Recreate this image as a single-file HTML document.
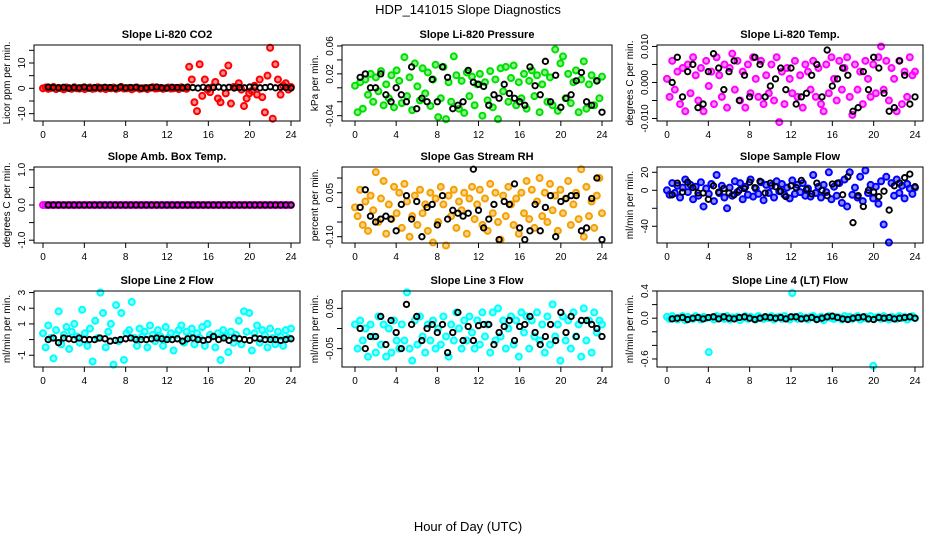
<!DOCTYPE html>
<html><head><meta charset="utf-8"><title>HDP_141015 Slope Diagnostics</title>
<style>
html,body{margin:0;padding:0;background:#fff;}
svg{display:block;font-family:"Liberation Sans",Arial,sans-serif;}
</style></head>
<body>
<svg id="chart" width="936" height="540" viewBox="0 0 936 540">
<text x="468" y="14" text-anchor="middle" font-size="13">HDP_141015  Slope Diagnostics</text>
<text x="468" y="531" text-anchor="middle" font-size="13">Hour of Day (UTC)</text>
</svg>
<script>
const xTicks = [0,4,8,12,16,20,24];

const co2Slope = [0,0.3,-0.2,0.1,0.5,-0.3,0.2,0,-0.4,0.3,0.1,-0.2,0.4,0,-0.1,0.2,-0.3,0.1,0.3,-0.2,0,0.4,-0.1,0.2,-0.3,0.1,0,0.3,-0.2,0.1,0.5,-0.1,0,0.2,-0.4,0.1,0.3,-0.2,0,0.1,-0.3,0.2,0.4,-0.1,0,0.2,-0.2,0.1,0.3,-0.1,0,0.2,-0.3,0.4,0.1,-0.2,8.5,3.5,-5.5,-9,9.5,-3,3.5,-0.5,-1.5,0.5,2.5,-4,-5.5,6,-2,9,-6,0.5,0.5,2,-0.5,-7,-4,-2,-1,1,-2.5,3.5,-3.5,-9.5,5,16,-12,9.5,3.5,-2.5,1,2,-0.5,0.5];
const co2Mean = [0.5,0.3,0.2,0.4,0.1,0.3,0.2,0.5,0.1,0.3,0.2,0.4,0.3,0.1,0.5,0.2,0.3,0.4,0.1,0.2,0.3,0.5,0.2,0.1,0.4,0.3,0.2,0.5,0.3,0.1,0.4,0.2,0.3,0.5,0.2,0.4,0.1,0.3,0.2,0.5,0.4,0.2,0.3,0.6,0.2,0.4,0.3,0.1];

const presSlope = [0.003,-0.035,0.008,-0.03,0.012,-0.01,0.02,-0.02,0.015,-0.005,0.024,-0.025,0.005,-0.015,0.018,-0.028,0.025,0.01,-0.022,0.044,-0.012,0.015,-0.032,0.035,0.002,-0.018,0.028,-0.008,0.022,-0.026,0.012,0.033,-0.042,-0.015,0.03,-0.045,0.008,-0.02,0.045,0.018,-0.03,0.01,-0.036,0.022,-0.012,0.016,-0.025,0.005,0.02,-0.04,0.008,-0.018,0.024,-0.028,0.012,-0.045,0.028,-0.005,0.03,-0.02,0.014,0.032,-0.025,0.008,-0.015,0.02,-0.03,0.01,0.025,-0.012,0.018,-0.035,0.005,0.022,-0.02,0.015,-0.025,0.055,-0.033,0.035,0.045,-0.015,0.02,-0.022,0.008,0.025,-0.035,0.012,0.038,-0.03,0.005,0.018,-0.025,0.01,-0.015,0.016];
const presMean = [0.015,0.02,0,0,0.02,-0.01,-0.02,0,-0.01,-0.02,0.03,-0.03,-0.015,-0.02,0.012,-0.02,0.03,0.015,-0.03,-0.025,-0.02,0.025,0.008,0.005,0.002,-0.025,-0.01,-0.015,0.005,-0.008,-0.015,-0.02,-0.025,0.03,0.003,-0.01,0.038,-0.02,0.018,-0.028,-0.015,-0.01,0.01,0.022,-0.02,-0.025,0.01,-0.035];

const tempSlope = [0.001,-0.004,0.006,-0.002,0.003,-0.006,0.004,-0.008,0.005,-0.003,0.007,0.002,-0.005,0.004,-0.008,0.006,-0.001,0.003,-0.006,0.007,0.002,-0.004,0.005,-0.007,0.004,0.008,-0.002,0.006,-0.005,0.003,-0.007,0.005,-0.003,0.007,0.001,-0.004,0.006,-0.006,0.002,-0.003,0.005,-0.005,0.007,-0.011,0.003,-0.006,0.004,0.001,-0.003,0.006,-0.004,0.002,-0.007,0.005,0.003,-0.002,0.006,-0.004,0.004,-0.006,-0.008,0.005,-0.003,0.007,0.001,-0.005,0.006,-0.002,0.004,0.007,-0.004,-0.009,0.005,-0.002,0.003,-0.006,0.006,0.001,-0.004,0.005,-0.003,0.007,0.01,-0.002,0.006,-0.005,0.004,0.001,-0.008,0.006,-0.006,0.003,-0.004,0.007,0.002,0.003];
const tempMean = [0,0.007,-0.004,0.003,0.005,-0.007,-0.006,0.003,0.008,0.004,-0.002,0.003,0.006,-0.005,0.002,-0.004,0.007,0.005,-0.004,-0.001,0.001,0.004,-0.002,0.004,-0.006,-0.004,-0.003,0.002,0.005,-0.004,0.009,-0.001,0.001,0.004,0.002,-0.008,-0.007,0.003,-0.002,0.007,0.004,-0.003,-0.008,-0.007,0.006,0.002,-0.006,-0.004];

const boxSlope = [0,0,0,0,0,0,0,0,0,0,0,0,0,0,0,0,0,0,0,0,0,0,0,0,0,0,0,0,0,0,0,0,0,0,0,0,0,0,0,0,0,0,0,0,0,0,0,0,0,0,0,0,0,0,0,0,0,0,0,0,0,0,0,0,0,0,0,0,0,0,0,0,0,0,0,0,0,0,0,0,0,0,0,0,0,0,0,0,0,0,0,0,0,0,0,0];
const boxMean = [0,0,0,0,0,0,0,0,0,0,0,0,0,0,0,0,0,0,0,0,0,0,0,0,0,0,0,0,0,0,0,0,0,0,0,0,0,0,0,0,0,0,0,0,0,0,0,0];

const rhSlope = [0,-0.03,0.06,-0.06,0.02,-0.08,0.04,-0.01,0.12,-0.05,0.03,0.09,-0.09,0.01,-0.04,0.07,-0.02,0.05,-0.07,0.08,0.02,-0.1,-0.03,0.04,-0.06,0.06,-0.02,0.01,-0.08,0.05,-0.12,0.03,-0.05,0.07,0.01,-0.13,0.04,-0.03,0.06,-0.07,0.02,-0.01,0.05,-0.09,0.03,0.07,-0.04,0.01,0.06,-0.06,0.03,-0.08,0.08,-0.02,0.05,-0.05,-0.11,0.04,-0.03,0.07,0.01,-0.06,0.03,-0.09,0.05,-0.02,0.09,-0.04,0.06,-0.07,0.02,0.1,-0.03,0.05,-0.05,0.08,-0.01,0.04,-0.08,0.06,-0.02,0.03,0.09,-0.06,0.01,0.05,-0.04,0.13,-0.1,0.07,-0.03,0.02,-0.07,0.04,0.1,-0.02];
const rhMean = [0,0.06,-0.03,-0.05,-0.04,-0.03,-0.04,-0.08,0.01,0.04,-0.04,0.02,-0.1,0,0.01,-0.06,0.04,-0.04,-0.01,-0.02,-0.03,-0.02,0.13,-0.01,-0.07,-0.04,0.01,-0.11,0.02,0.01,0.08,-0.07,-0.11,-0.08,0.01,-0.08,0,0.04,-0.1,0.02,0.03,0.04,0.04,-0.08,-0.07,0.03,0.1,-0.11];

const flowSlope = [0,-5,8,-3,5,-8,3,12,-2,6,-10,4,-6,9,-18,2,-4,7,-12,17,-3,5,-8,-20,3,-6,10,-2,8,-10,4,-5,12,-7,2,-4,9,-11,6,-3,5,-8,10,-1,7,-5,3,-9,11,-4,6,-2,8,-6,2,-7,17,-3,4,-8,6,-2,20,-10,4,-6,8,-14,12,-18,20,-5,3,-8,15,-12,22,-3,6,-9,4,-15,10,-38,15,-58,8,-6,12,-3,5,-9,7,2,-4,3];
const flowMean = [-5,8,-2,9,3,-3,-3,-10,5,-2,2,-3,-5,0,2,9,3,10,-3,8,4,-1,-7,5,3,11,1,-4,8,0,-6,7,8,-5,15,-36,-6,-18,0,-2,-7,-1,-22,5,8,14,18,4];

const line2Slope = [0.4,-0.5,0.9,0.1,-1.2,0.6,1.8,-0.3,0.3,0.8,-0.6,0.5,1,0.2,-0.2,1.9,0.4,-0.4,0.7,-1.4,1.2,0.1,3,1.7,-0.5,0.5,1,-1.6,2.2,-0.1,1.7,-1.3,0.4,0.6,2.4,0.1,-0.4,0.7,0.2,0.5,-0.5,0.9,0.3,-0.1,0.6,0.2,-0.4,0.8,0.1,0.4,-0.7,0.3,0.6,0.9,-0.2,0.5,0.2,0.7,-0.3,0.4,0.1,0.8,-0.4,1,0.3,0.2,-0.5,0.4,-1.3,0.6,0.2,-0.8,0.5,-0.2,0.3,1.2,-0.3,1.8,0.5,1.7,-0.7,0.4,0.9,-0.2,0.6,0.3,-0.5,0.7,0.1,-0.3,0.5,0.2,-0.4,0.6,0.1,0.7];
const line2Mean = [0,0.1,-0.2,0.1,0.05,0,0.1,0,0,0,0.1,0.05,-0.1,-0.05,0,0.05,0.1,0,0,0,0.05,0.1,0.05,0,0,0.05,-0.1,0.05,0.1,0,-0.05,0,0.2,0,0.1,-0.05,0.1,0.05,0,-0.05,0.1,0.05,0,0,0,-0.05,0,0.05];

const line3Slope = [0.01,-0.05,0.02,-0.03,0,-0.07,0.01,-0.02,-0.06,0.03,-0.04,0.01,-0.07,0,-0.06,0.02,-0.03,-0.05,0.01,-0.03,0.09,-0.05,-0.08,0.02,-0.04,0.03,-0.02,-0.06,0.01,-0.03,0.02,-0.05,0,-0.04,0.03,-0.02,-0.07,0.01,-0.03,0.04,0,-0.05,0.02,-0.03,0.03,-0.01,-0.05,0.02,-0.04,0.04,-0.02,0.01,-0.06,0.04,-0.03,0.05,-0.02,0.02,-0.05,0,0.03,-0.04,0.02,-0.07,0.04,-0.01,0.03,-0.05,0.02,-0.02,0.04,-0.03,0.01,-0.06,0.03,-0.04,0.06,-0.02,0.01,-0.08,0.03,-0.03,0.02,-0.05,0.04,-0.02,0.01,-0.07,0.05,-0.03,0.02,-0.06,0.04,-0.01,0.02,0.01];
const line3Mean = [0,-0.05,-0.02,-0.02,0.03,-0.04,0.02,-0.01,-0.05,0.06,0.01,0.03,-0.03,0,0.01,-0.01,0.01,-0.06,-0.01,0.04,-0.03,0.005,-0.03,0.007,0.01,0.01,-0.04,-0.01,0.005,0.02,-0.03,0.005,0.01,0.03,-0.01,-0.04,-0.02,0.01,-0.03,0.04,-0.01,0.03,-0.02,0.02,0.02,0.01,0,-0.02];

const line4Slope = [0.02,-0.01,0.03,0,-0.02,0.01,0.03,-0.03,0.02,0,-0.01,0.03,0.01,-0.02,0.02,0,-0.5,0.01,-0.02,0.03,0,0.02,-0.01,0.03,-0.02,0.01,0,0.02,-0.03,0.01,0.03,-0.01,0.02,0,-0.02,0.03,0.01,-0.01,0.02,0,0.03,-0.02,0.01,0.02,-0.01,0.03,0,-0.02,0.37,0.02,-0.01,0.03,0,0.01,-0.02,0.02,0.03,-0.01,0,0.02,-0.03,0.01,0.03,0,-0.01,0.02,0.01,-0.02,0.03,0,0.02,-0.01,0.01,0.03,-0.02,0,0.02,-0.01,0.03,-0.7,0.01,0.02,-0.01,0.03,0,-0.02,0.02,0.01,-0.01,0.03,0,0.02,-0.02,0.01,0.03,0];
const line4Mean = [-0.01,0,0.01,-0.02,0,0.01,-0.01,0.01,0.02,-0.01,0.02,0,-0.01,0.01,0.02,0,-0.02,0,0.02,0.01,0,0.01,-0.01,0.02,0.02,-0.01,0,0.01,-0.02,0,0.02,0.03,0.01,-0.01,-0.02,0,0.01,0.02,-0.01,-0.02,0.01,0,0.01,-0.01,0,0.01,0.02,0];

const co2YTicks = [-10,-5,0,5,10,15];
const co2YLabels = ["-10","","0","","10",""];
const presYTicks = [-0.04,-0.02,0,0.02,0.04,0.06];
const presYLabels = ["-0.04","","","0.02","","0.06"];
const tempYTicks = [-0.01,-0.005,0,0.005,0.01];
const tempYLabels = ["-0.010","","0.000","","0.010"];
const boxYTicks = [-1,-0.5,0,0.5,1];
const boxYLabels = ["-1.0","","0.0","","1.0"];
const rhYTicks = [-0.1,-0.05,0,0.05,0.1];
const rhYLabels = ["-0.10","","","0.05",""];
const flowYTicks = [-40,-20,0,20];
const flowYLabels = ["-40","","0","20"];
const line2YTicks = [-1,0,1,2,3];
const line2YLabels = ["-1","","1","2","3"];
const line3YTicks = [-0.05,0,0.05];
const line3YLabels = ["-0.05","","0.05"];
const line4YTicks = [-0.6,-0.4,-0.2,0,0.2,0.4];
const line4YLabels = ["-0.6","","","0.0","","0.4"];

const NS = "http://www.w3.org/2000/svg";
const svg = document.getElementById('chart');
function mk(tag, attrs, parent){
  const e = document.createElementNS(NS, tag);
  for (const k in attrs) e.setAttribute(k, attrs[k]);
  parent.appendChild(e);
  return e;
}

function panel(o){
  const g = mk('g', {}, svg);
  
  
  const xS = v => o.x0 + (v / 24) * (o.x24 - o.x0);
  const yS = v => o.top + (o.ymax - v) / (o.ymax - o.ymin) * (o.bottom - o.top);

  const t = mk('text', {x: (o.left + o.right) / 2, y: o.top - 7, 'text-anchor': 'middle', 'font-size': 11, 'font-weight': 'bold'}, g);
  t.textContent = o.title;
  
  

  const ps = mk('g', {}, g);
  
  
  o.vals.forEach((v, i) => {
    const c = mk('circle', {cx: xS(i * 24 / (o.vals.length - 1)), cy: yS(v), r: 3, stroke: o.color, 'stroke-width': 2, fill: o.color, 'fill-opacity': 0.45}, ps);
    
    
  });
  o.mean.forEach((v, i) => {
    const c = mk('circle', {cx: xS(0.5 + i * 23.5 / (o.mean.length - 1)), cy: yS(v), r: 2.7, stroke: '#000', 'stroke-width': 1.9, fill: 'none'}, ps);
    
    
  });

  const box = mk('rect', {x: o.left, y: o.top, width: o.right - o.left, height: o.bottom - o.top, fill: 'none', stroke: '#000', 'stroke-width': 1}, g);
  
  

  const xa = mk('g', {}, g);
  
  
  xTicks.forEach(v => {
    mk('line', {x1: xS(v), x2: xS(v), y1: o.bottom, y2: o.bottom + 5, stroke: '#000'}, xa);
    const l = mk('text', {x: xS(v), y: o.bottom + 17, 'text-anchor': 'middle', 'font-size': 10}, xa);
    l.textContent = v;
    
    
  });

  const ya = mk('g', {}, g);
  
  
  o.yTicks.forEach((v, i) => {
    mk('line', {x1: o.left - 5, x2: o.left, y1: yS(v), y2: yS(v), stroke: '#000'}, ya);
    if (o.yLabels[i]) {
      const lx = o.left - 9;
      const l = mk('text', {x: lx, y: yS(v), 'text-anchor': 'middle', 'font-size': 10, transform: `rotate(-90 ${lx} ${yS(v)})`}, ya);
      l.textContent = o.yLabels[i];
      
      
    }
  });
  const yx = o.left - 24, yy = (o.top + o.bottom) / 2;
  const yl = mk('text', {x: yx, y: yy, 'text-anchor': 'middle', 'font-size': 10, transform: `rotate(-90 ${yx} ${yy})`}, g);
  yl.textContent = o.ylab;
  
  
}

const C1 = {left: 34, right: 300, x0: 43, x24: 291};
const C2 = {left: 342, right: 612, x0: 355, x24: 602};
const C3 = {left: 657, right: 923, x0: 667, x24: 915};
const R1 = {top: 45, bottom: 121}, R2 = {top: 167, bottom: 243}, R3 = {top: 291, bottom: 367};

panel(Object.assign({name:'co2', title:'Slope Li-820 CO2', ylab:'Licor ppm per min.', color:'#ff0000', vals:co2Slope, mean:co2Mean, ymin:-12.9, ymax:17.1, yTicks:co2YTicks, yLabels:co2YLabels}, C1, R1));
panel(Object.assign({name:'pressure', title:'Slope Li-820 Pressure', ylab:'kPa per min.', color:'#00e000', vals:presSlope, mean:presMean, ymin:-0.0476, ymax:0.0614, yTicks:presYTicks, yLabels:presYLabels}, C2, R1));
panel(Object.assign({name:'licor-temp', title:'Slope Li-820 Temp.', ylab:'degrees C per min.', color:'#ff00ff', vals:tempSlope, mean:tempMean, ymin:-0.0107, ymax:0.0104, yTicks:tempYTicks, yLabels:tempYLabels}, C3, R1));
panel(Object.assign({name:'box-temp', title:'Slope Amb. Box Temp.', ylab:'degrees C per min.', color:'#ff00ff', vals:boxSlope, mean:boxMean, ymin:-1.08, ymax:1.08, yTicks:boxYTicks, yLabels:boxYLabels}, C1, R2));
panel(Object.assign({name:'gas-rh', title:'Slope Gas Stream RH', ylab:'percent per min.', color:'#f5a000', vals:rhSlope, mean:rhMean, ymin:-0.1215, ymax:0.1376, yTicks:rhYTicks, yLabels:rhYLabels}, C2, R2));
panel(Object.assign({name:'sample-flow', title:'Slope Sample Flow', ylab:'ml/min per min.', color:'#0000ff', vals:flowSlope, mean:flowMean, ymin:-58.6, ymax:25.9, yTicks:flowYTicks, yLabels:flowYLabels}, C3, R2));
panel(Object.assign({name:'line2-flow', title:'Slope Line 2 Flow', ylab:'ml/min per min.', color:'#00ffff', vals:line2Slope, mean:line2Mean, ymin:-1.75, ymax:3.1, yTicks:line2YTicks, yLabels:line2YLabels}, C1, R3));
panel(Object.assign({name:'line3-flow', title:'Slope Line 3 Flow', ylab:'ml/min per min.', color:'#00ffff', vals:line3Slope, mean:line3Mean, ymin:-0.0958, ymax:0.0933, yTicks:line3YTicks, yLabels:line3YLabels}, C2, R3));
panel(Object.assign({name:'line4-flow', title:'Slope Line 4 (LT) Flow', ylab:'ml/min per min.', color:'#00ffff', vals:line4Slope, mean:line4Mean, ymin:-0.718, ymax:0.4, yTicks:line4YTicks, yLabels:line4YLabels}, C3, R3));
</script>
</body></html>
